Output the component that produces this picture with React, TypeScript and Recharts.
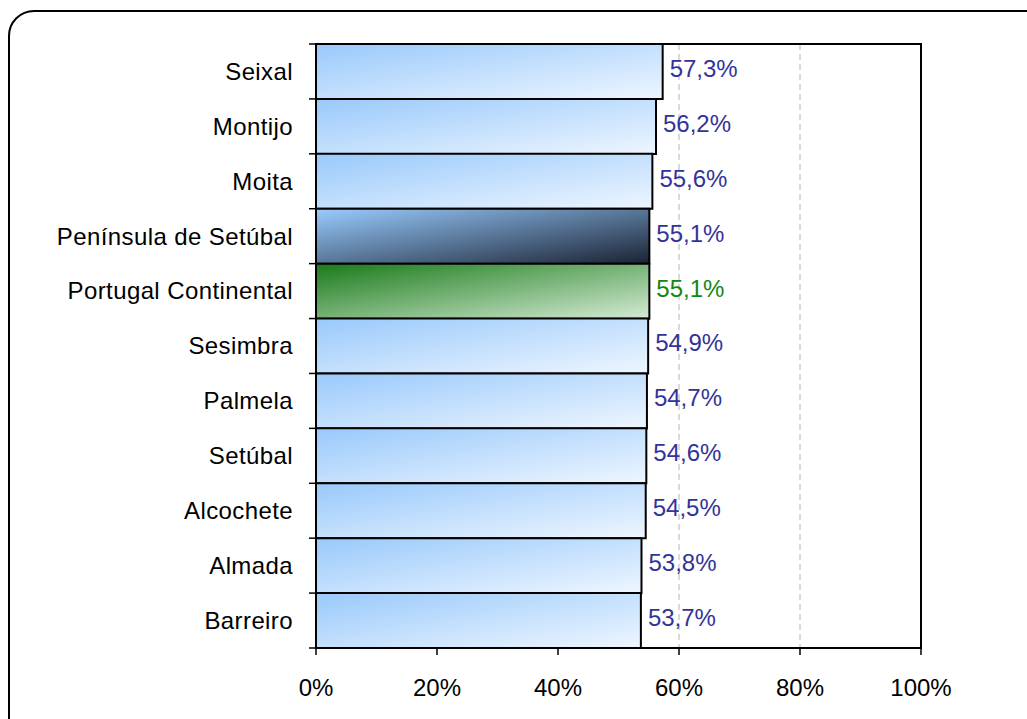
import { BarChart, Bar, XAxis, YAxis, CartesianGrid, Cell, LabelList, ReferenceArea } from 'recharts';

const municipios = [
  'Seixal',
  'Montijo',
  'Moita',
  'Península de Setúbal',
  'Portugal Continental',
  'Sesimbra',
  'Palmela',
  'Setúbal',
  'Alcochete',
  'Almada',
  'Barreiro',
];
const taxas = [57.3, 56.2, 55.6, 55.1, 55.1, 54.9, 54.7, 54.6, 54.5, 53.8, 53.7];
const xTicks = [0, 20, 40, 60, 80, 100];

const data = municipios.map((nome, i) => ({ nome, valor: taxas[i] }));

const FONT = '"Liberation Sans", Arial, sans-serif';
const W = 1027;
const H = 719;
const TOP = 44;
const BOTTOM = 71;
const BAND = (H - TOP - BOTTOM) / municipios.length;

// special rows get their own fill / label colour
const destaque: Record<string, { fill: string; label: string }> = {
  'Península de Setúbal': { fill: 'url(#gradNavy)', label: '#333399' },
  'Portugal Continental': { fill: 'url(#gradGreen)', label: '#118811' },
};

const fmt = (v: number) => v.toFixed(1).replace('.', ',') + '%';

function CategoryTick(props: any) {
  const { x, y, payload, index } = props;
  const ax = x + 16;
  return (
    <g>
      <line x1={ax} x2={ax + 8} y1={y - BAND / 2} y2={y - BAND / 2} stroke="#000" strokeWidth={1.5} />
      {index === municipios.length - 1 && (
        <line x1={ax} x2={ax + 8} y1={y + BAND / 2} y2={y + BAND / 2} stroke="#000" strokeWidth={1.5} />
      )}
      <text x={x} y={y} dy="0.35em" textAnchor="end" fill="#000" fontSize={24} fontFamily={FONT} letterSpacing={0.4}>
        {payload.value}
      </text>
    </g>
  );
}

function ValueLabel(props: any) {
  const { x, y, width, height, value, index } = props;
  const d = destaque[municipios[index]];
  return (
    <text
      x={x + width + 7}
      y={y + height / 2 - 3}
      dy="0.35em"
      fill={d ? d.label : '#333399'}
      fontSize={24}
      fontFamily={FONT}
    >
      {fmt(value)}
    </text>
  );
}

export default function App() {
  return (
    <div style={{ position: 'fixed', left: 0, top: 0, width: W, height: H, overflow: 'hidden', background: '#fff' }}>
      <div
        style={{
          position: 'absolute',
          left: 8,
          top: 10,
          width: 1040,
          height: 730,
          border: '2px solid #000',
          borderRadius: 26,
        }}
      />
      <div style={{ position: 'absolute', left: 0, top: 0 }}>
        <BarChart
          width={W}
          height={H}
          data={data}
          layout="vertical"
          barCategoryGap={0}
          margin={{ top: TOP, right: 106, bottom: BOTTOM - 50, left: 0 }}
        >
          <defs>
            <linearGradient id="gradBlue" x1="0" y1="0" x2="1" y2="1">
              <stop offset="0%" stopColor="#99c9fb" />
              <stop offset="100%" stopColor="#eef6ff" />
            </linearGradient>
            <linearGradient id="gradNavy" x1="0" y1="0" x2="1" y2="1">
              <stop offset="0%" stopColor="#99ccff" />
              <stop offset="100%" stopColor="#1a2233" />
            </linearGradient>
            <linearGradient id="gradGreen" x1="0" y1="0" x2="1" y2="1">
              <stop offset="0%" stopColor="#1a7a1a" />
              <stop offset="100%" stopColor="#d4ebd4" />
            </linearGradient>
          </defs>
          <CartesianGrid horizontal={false} stroke="#b4b4b4" strokeDasharray="6 4" />
          <XAxis
            type="number"
            domain={[0, 100]}
            ticks={xTicks}
            tickFormatter={(v) => `${v}%`}
            height={50}
            tickSize={7}
            tickMargin={24}
            axisLine={{ stroke: '#000', strokeWidth: 2 }}
            tickLine={{ stroke: '#000', strokeWidth: 1.5 }}
            tick={{ fill: '#000', fontSize: 24, fontFamily: FONT }}
          />
          <YAxis
            type="category"
            dataKey="nome"
            width={316}
            tickSize={7}
            tickMargin={16}
            tickLine={false}
            interval={0}
            axisLine={{ stroke: '#000', strokeWidth: 2 }}
            tick={<CategoryTick />}
          />
          <ReferenceArea
            x1={0}
            x2={100}
            y1={municipios[0]}
            y2={municipios[municipios.length - 1]}
            fill="none"
            stroke="#000"
            strokeWidth={2}
            fillOpacity={0}
          />
          <Bar dataKey="valor" stroke="#000" strokeWidth={2} isAnimationActive={false}>
            {data.map((d) => (
              <Cell key={d.nome} fill={destaque[d.nome] ? destaque[d.nome].fill : 'url(#gradBlue)'} />
            ))}
            <LabelList dataKey="valor" content={<ValueLabel />} />
          </Bar>
        </BarChart>
      </div>
    </div>
  );
}
